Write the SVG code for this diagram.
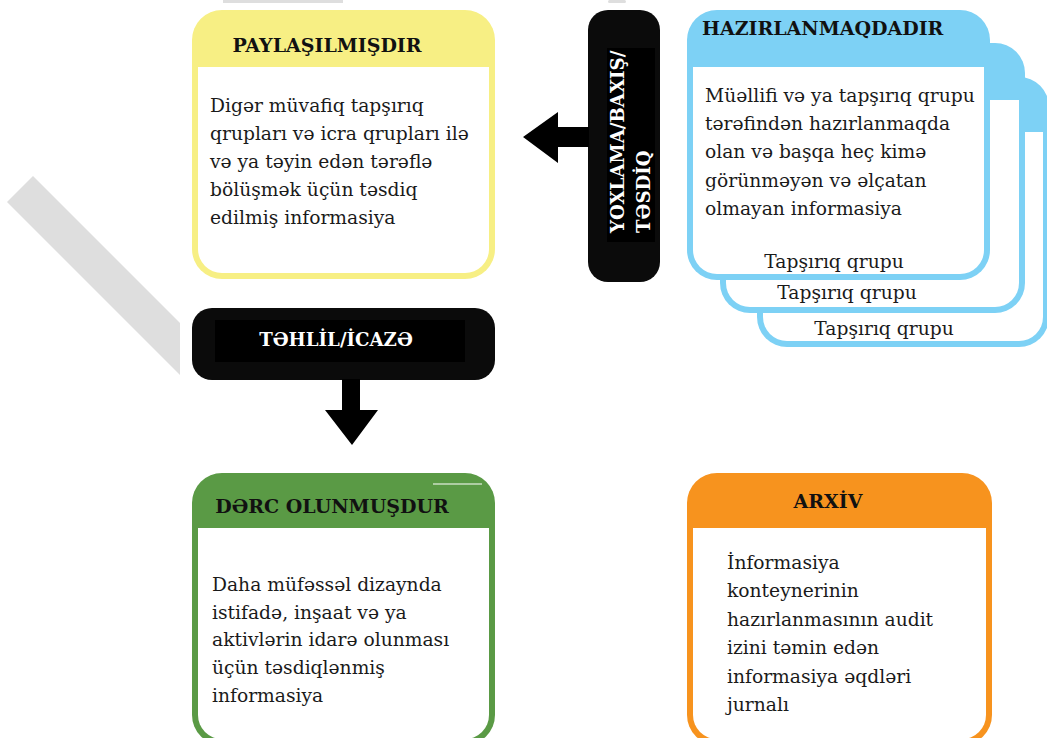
<svg xmlns="http://www.w3.org/2000/svg" width="1047" height="738" viewBox="0 0 1047 738">
  <style>
    .body { font-family: "DejaVu Serif", "Liberation Serif", serif; font-size: 18.7px; fill: #1a1a1a; }
    .title { font-family: "DejaVu Serif", "Liberation Serif", serif; font-size: 19px; font-weight: bold; fill: #111; }
    .stage { font-family: "DejaVu Serif", "Liberation Serif", serif; font-size: 18.2px; font-weight: bold; fill: #fff; }
    .white { fill: #fff; }
    .blue { fill: #7dd1f5; }
    .pad { fill: #0b0b0b; }
    .padIn { fill: #000; }
    .arrow { fill: #000; }
  </style>

  <rect width="1047" height="738" fill="#fff"/>

  <!-- faint background band -->
  <g id="band" fill="#dedede">
    <polygon points="7,202 33,176 180,323 180,375"/>
    <rect x="223" y="0" width="120" height="3"/>
    <rect x="608" y="0" width="18" height="3" rx="1.5"/>
  </g>

  <!-- Shared -->
  <g id="shared">
    <rect x="192" y="10" width="303" height="269" rx="30" fill="#f7ef84"/>
    <path class="white" d="M198,67 H489 V249 A24,24 0 0 1 465,273 H222 A24,24 0 0 1 198,249 Z"/>
    <text class="title" x="327" y="52" text-anchor="middle">PAYLAŞILMIŞDIR</text>
    <text class="body">
      <tspan x="210" y="112">Digər müvafiq tapşırıq</tspan>
      <tspan x="210" y="140">qrupları və icra qrupları ilə</tspan>
      <tspan x="210" y="168">və ya təyin edən tərəflə</tspan>
      <tspan x="210" y="196">bölüşmək üçün təsdiq</tspan>
      <tspan x="210" y="224">edilmiş informasiya</tspan>
    </text>
  </g>

  <!-- Work in progress: three stacked task-group cards -->
  <g id="wip">
    <rect class="blue" x="757" y="77" width="292" height="270" rx="30"/>
    <path class="white" d="M763,132 H1043 V317 A24,24 0 0 1 1019,341 H787 A24,24 0 0 1 763,317 Z"/>
    <text class="body" x="884" y="335" text-anchor="middle">Tapşırıq qrupu</text>

    <rect class="blue" x="720" y="43" width="305" height="270" rx="30"/>
    <path class="white" d="M726,100 H1019 V283 A24,24 0 0 1 995,307 H750 A24,24 0 0 1 726,283 Z"/>
    <text class="body" x="847" y="299" text-anchor="middle">Tapşırıq qrupu</text>

    <rect class="blue" x="687" y="10" width="303" height="270" rx="30"/>
    <path class="white" d="M693,67 H984 V250 A24,24 0 0 1 960,274 H717 A24,24 0 0 1 693,250 Z"/>
    <text class="body" x="834" y="268" text-anchor="middle">Tapşırıq qrupu</text>

    <text class="title" x="702" y="35">HAZIRLANMAQDADIR</text>
    <text class="body">
      <tspan x="705" y="102">Müəllifi və ya tapşırıq qrupu</tspan>
      <tspan x="705" y="130">tərəfindən hazırlanmaqda</tspan>
      <tspan x="705" y="158">olan və başqa heç kimə</tspan>
      <tspan x="705" y="187">görünməyən və əlçatan</tspan>
      <tspan x="705" y="215">olmayan informasiya</tspan>
    </text>
  </g>

  <!-- Published -->
  <g id="published">
    <rect x="192" y="473" width="303" height="272" rx="30" fill="#5a9a45"/>
    <path class="white" d="M198,528 H489 V715 A24,24 0 0 1 465,739 H222 A24,24 0 0 1 198,715 Z"/>
    <line x1="433" y1="484" x2="482" y2="484" stroke="#fff" stroke-width="1.2"/>
    <text class="title" x="332" y="513" text-anchor="middle">DƏRC OLUNMUŞDUR</text>
    <text class="body">
      <tspan x="212" y="591">Daha müfəssəl dizaynda</tspan>
      <tspan x="212" y="619">istifadə, inşaat və ya</tspan>
      <tspan x="212" y="646">aktivlərin idarə olunması</tspan>
      <tspan x="212" y="674">üçün təsdiqlənmiş</tspan>
      <tspan x="212" y="702">informasiya</tspan>
    </text>
  </g>

  <!-- Archive -->
  <g id="archive">
    <rect x="687" y="473" width="305" height="272" rx="30" fill="#f7931e"/>
    <path class="white" d="M693,528 H986 V715 A24,24 0 0 1 962,739 H717 A24,24 0 0 1 693,715 Z"/>
    <text class="title" x="828" y="508" text-anchor="middle">ARXİV</text>
    <text class="body">
      <tspan x="727" y="569">İnformasiya</tspan>
      <tspan x="727" y="597">konteynerinin</tspan>
      <tspan x="727" y="626">hazırlanmasının audit</tspan>
      <tspan x="727" y="654">izini təmin edən</tspan>
      <tspan x="727" y="683">informasiya əqdləri</tspan>
      <tspan x="727" y="711">jurnalı</tspan>
    </text>
  </g>

  <!-- Review / check / approval gate -->
  <g id="review">
    <rect class="pad" x="588" y="10" width="72" height="272" rx="20"/>
    <rect class="padIn" x="607" y="48" width="48" height="194"/>
    <text class="stage" transform="translate(624,233) rotate(-90)">YOXLAMA/BAXIŞ/</text>
    <text class="stage" transform="translate(650,233) rotate(-90)">TƏSDİQ</text>
  </g>

  <!-- Analysis / authorisation gate -->
  <g id="authorise">
    <rect class="pad" x="192" y="308" width="303" height="72" rx="20"/>
    <rect class="padIn" x="215" y="320" width="250" height="42"/>
    <text class="stage" x="336" y="346" text-anchor="middle">TƏHLİL/İCAZƏ</text>
  </g>

  <!-- Connectors -->
  <g id="connectors">
    <polygon class="arrow" points="523,137 558,112 558,127 589,127 589,147 558,147 558,163"/>
    <polygon class="arrow" points="342,379 360,379 360,410 378,410 352,445 325,410 342,410"/>
  </g>
</svg>
